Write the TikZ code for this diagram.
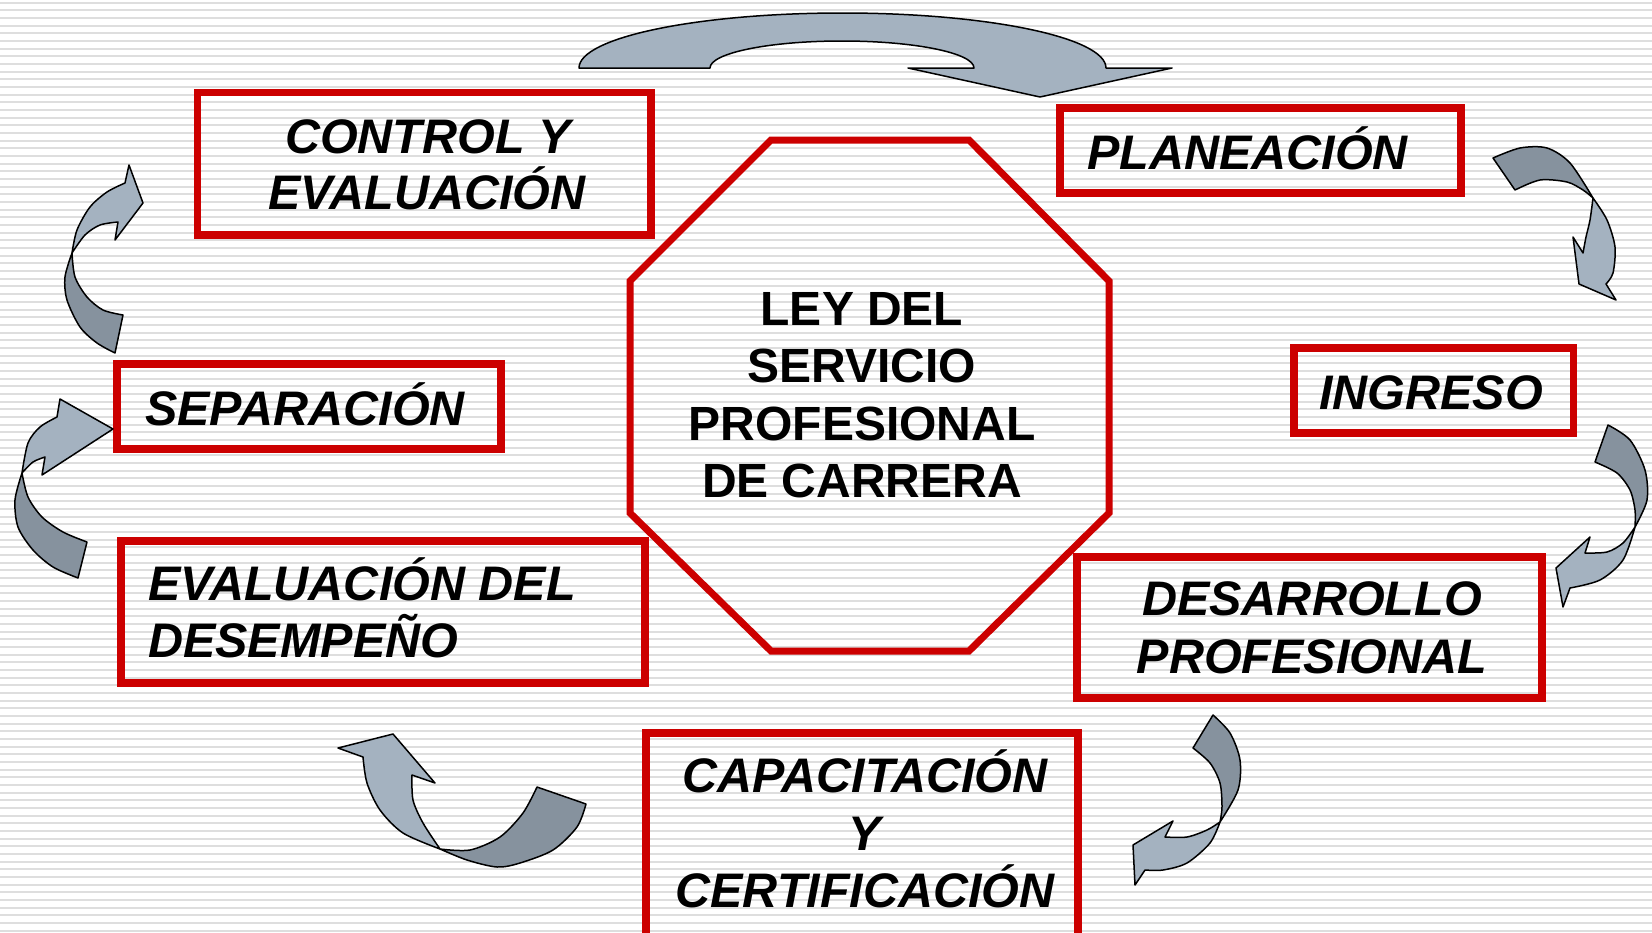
\documentclass[tikz,border=0pt]{standalone}
\usepackage{fontspec}
\setmainfont{Liberation Sans}
\definecolor{boxred}{RGB}{204,0,0}
\definecolor{stripe}{RGB}{222,222,222}
\definecolor{arrlight}{RGB}{164,178,192}
\definecolor{arrdark}{RGB}{134,146,158}
\begin{document}
\begin{tikzpicture}[x=1pt,y=-1pt,
  box/.style={draw=boxred, line width=7.5pt, rectangle, inner sep=0pt, line join=miter},
  lbl/.style={font=\fontsize{48.5}{57.5}\selectfont\bfseries\itshape, inner sep=0pt},
  ctr/.style={font=\fontsize{48}{57.5}\selectfont\bfseries, inner sep=0pt},
  arrl/.style={fill=arrlight, draw=black, line width=1.5pt, line join=round},
  arrd/.style={fill=arrdark, draw=black, line width=1.5pt, line join=round},
  stripeline/.style={draw=stripe, line width=2pt}]
\useasboundingbox (0,0) rectangle (1652,932);
\begin{scope}
\clip (0,0) rectangle (1652,932);
\fill[white] (0,0) rectangle (1652,932);
\foreach \i in {0,...,121} \draw[stripeline] (0,{2.7+7.67*\i}) -- (1652,{2.7+7.67*\i});

% octagon
\draw[draw=boxred, line width=7pt, line join=miter] (771,140) -- (969,140) -- (1109,281) -- (1109,513) -- (969,651) -- (771,651) -- (630,513) -- (630,281) -- cycle;
\node[ctr, anchor=base] (ley1) at (862,325) {LEY DEL};
\node[ctr, anchor=base] (ley2) at (862,382.5) {SERVICIO};
\node[ctr, anchor=base] (ley3) at (862,440) {PROFESIONAL};
\node[ctr, anchor=base] (ley4) at (862,497.5) {DE CARRERA};

% boxes
\node[box, minimum width=453.5pt, minimum height=142.5pt] (ctl) at (424.25,163.75) {};
\node[lbl, anchor=base] (ctlA) at (428,153) {CONTROL Y};
\node[lbl, anchor=base] (ctlB) at (427,209) {EVALUACIÓN};

\node[box, minimum width=401pt, minimum height=85pt] (plan) at (1260.5,150.5) {};
\node[lbl, anchor=base west] (planA) at (1087,169) {PLANEACIÓN};

\node[box, minimum width=279.6pt, minimum height=85pt] (ing) at (1433.8,390.5) {};
\node[lbl, anchor=base west] (ingA) at (1319,409) {INGRESO};

\node[box, minimum width=384pt, minimum height=85pt] (sep) at (309,406.5) {};
\node[lbl, anchor=base west] (sepA) at (145,425) {SEPARACIÓN};

\node[box, minimum width=524pt, minimum height=142pt] (eval) at (383,612) {};
\node[lbl, anchor=base west] (evalA) at (148,600) {EVALUACIÓN DEL};
\node[lbl, anchor=base west] (evalB) at (148,657) {DESEMPEÑO};

\node[box, minimum width=465pt, minimum height=141pt] (des) at (1309.5,627.5) {};
\node[lbl, anchor=base] (desA) at (1312,615) {DESARROLLO};
\node[lbl, anchor=base] (desB) at (1312,673) {PROFESIONAL};

\node[box, minimum width=432pt, minimum height=227pt] (cap) at (862,846.5) {};
\node[lbl, anchor=base] (capA) at (865,792) {CAPACITACIÓN};
\node[lbl, anchor=base] (capB) at (865,850) {Y};
\node[lbl, anchor=base] (capC) at (865,907) {CERTIFICACIÓN};

% top arrow
\filldraw[arrl] (579,68) arc[start angle=180, end angle=0, x radius=263.5pt, y radius=55pt]
  -- (1172,68) -- (1040,97) -- (908,68) -- (974,68)
  arc[start angle=0, end angle=180, x radius=132pt, y radius=27pt] -- cycle;

% arrow A (left upper)
\filldraw[arrd] plot[smooth] coordinates {(72,253) (65,277) (67,300) (80,327) (97,343) (115,353)}
  -- plot[smooth] coordinates {(123,315) (103,310) (87,297) (75,277) (72,253)} -- cycle;
\filldraw[arrl] plot[smooth] coordinates {(72,253) (77,230) (90,207) (107,192) (125,183)}
  -- (129,165) -- (143,203) -- (115,240)
  -- plot[smooth] coordinates {(118,222) (100,225) (85,235) (72,253)} -- cycle;

% arrow B (left lower)
\filldraw[arrd] plot[smooth] coordinates {(22,473) (15,500) (18,527) (33,550) (53,567) (78,578)}
  -- plot[smooth] coordinates {(87,542) (63,532) (42,517) (28,497) (22,473)} -- cycle;
\filldraw[arrl] plot[smooth] coordinates {(22,473) (28,443) (40,427) (57,417)}
  -- (60,399) -- (113,429) -- (42,475)
  -- plot[smooth] coordinates {(45,457) (33,462) (22,473)} -- cycle;

% arrow C (right upper)
\filldraw[arrd] plot[smooth] coordinates {(1493,158) (1520,148) (1547,148) (1570,163) (1593,198)}
  -- plot[smooth] coordinates {(1593,198) (1583,190) (1567,182) (1540,180) (1515,190)} -- cycle;
\filldraw[arrl] plot[smooth] coordinates {(1593,198) (1607,220) (1615,247) (1613,273) (1606,284)}
  -- (1616,300) -- (1579,284) -- (1573,237)
  -- plot[smooth] coordinates {(1583,253) (1586,237) (1590,220) (1593,198)} -- cycle;

% arrow D (right lower)
\filldraw[arrd] plot[smooth] coordinates {(1608,425) (1630,440) (1645,470) (1647,500) (1635,527)}
  -- plot[smooth] coordinates {(1635,527) (1635,510) (1630,490) (1617,473) (1595,462)} -- cycle;
\filldraw[arrl] plot[smooth] coordinates {(1635,527) (1623,560) (1600,580) (1570,588)}
  -- (1563,607) -- (1556,568) -- (1590,537)
  -- plot[smooth] coordinates {(1585,553) (1607,552) (1623,543) (1635,527)} -- cycle;

% arrow E (bottom right)
\filldraw[arrd] plot[smooth] coordinates {(1213,715) (1230,733) (1240,760) (1238,790) (1220,822)}
  -- plot[smooth] coordinates {(1220,822) (1222,807) (1220,783) (1210,763) (1193,748)} -- cycle;
\filldraw[arrl] plot[smooth] coordinates {(1220,822) (1210,843) (1187,863) (1163,870) (1145,870)}
  -- (1135,885) -- (1133,845) -- (1173,821)
  -- plot[smooth] coordinates {(1165,837) (1187,837) (1207,830) (1220,822)} -- cycle;

% arrow F (bottom left)
\filldraw[arrd] plot[smooth] coordinates {(440,849) (470,850) (500,837) (523,813) (537,787)}
  -- plot[smooth] coordinates {(586,804) (577,827) (553,850) (520,863) (497,867) (467,860) (440,849)} -- cycle;
\filldraw[arrl] plot[smooth] coordinates {(440,849) (403,833) (380,810) (367,783) (363,757)}
  -- (338,748) -- (393,734) -- (435,783)
  -- plot[smooth] coordinates {(412,775) (413,800) (423,823) (440,849)} -- cycle;
\end{scope}
\end{tikzpicture}
\end{document}
